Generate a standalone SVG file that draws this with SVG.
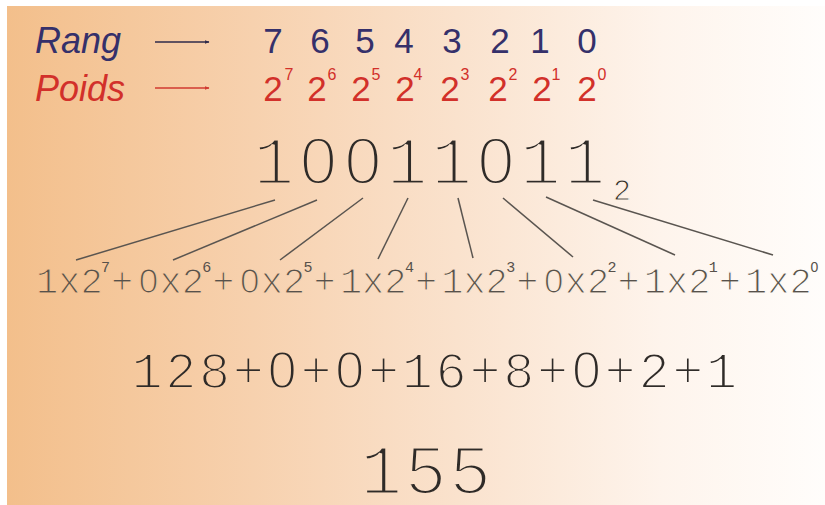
<svg xmlns="http://www.w3.org/2000/svg" width="825" height="505" viewBox="0 0 825 505">
  <defs>
    <linearGradient id="bg" gradientUnits="userSpaceOnUse" x1="7" y1="0" x2="825" y2="0">
      <stop offset="0" stop-color="#F3BF8B"/>
      <stop offset="0.3" stop-color="#F7D1AE"/>
      <stop offset="0.55" stop-color="#FAE2CD"/>
      <stop offset="0.8" stop-color="#FEF4EC"/>
      <stop offset="1" stop-color="#FFFDFB"/>
    </linearGradient>
    <marker id="arrDark" viewBox="0 0 10 10" refX="9" refY="5" markerWidth="5" markerHeight="5" orient="auto" markerUnits="userSpaceOnUse">
      <path d="M0,1 L10,5 L0,9 Z" fill="#2e2a4a"/>
    </marker>
    <marker id="arrRed" viewBox="0 0 10 10" refX="9" refY="5" markerWidth="5" markerHeight="5" orient="auto" markerUnits="userSpaceOnUse">
      <path d="M0,1 L10,5 L0,9 Z" fill="#d03a30"/>
    </marker>
  </defs>
  <style>
    .lab { font-family: "Liberation Sans", Arial, sans-serif; font-style: italic; font-size: 36px; }
    .sans { font-family: "Liberation Sans", Arial, sans-serif; font-size: 35px; }
    .sup { font-family: "Liberation Sans", Arial, sans-serif; font-size: 16px; }
    .rang { fill: #35306a; }
    .poids { fill: #d2302a; }
    .mono { font-family: "Liberation Mono", "Courier New", monospace; fill: #2f2b28; stroke: url(#bg); stroke-width: 3px; }
    .z { font-family: "Liberation Sans", Arial, sans-serif; }
    .exp { font-family: "Liberation Mono", "Courier New", monospace; font-size: 37px; fill: #57514b; stroke: url(#bg); stroke-width: 1.2px; }
    .expz { font-family: "Liberation Sans", Arial, sans-serif; font-size: 35px; fill: #57514b; stroke: url(#bg); stroke-width: 1.2px; }
    .expsup { font-family: "Liberation Mono", "Courier New", monospace; font-size: 15px; fill: #57514b; }
    .conn { stroke: #5a5550; stroke-width: 1.5; fill: none; }
  </style>
  <rect x="0" y="0" width="825" height="505" fill="#ffffff"/>
  <rect x="7" y="6" width="818" height="499" fill="url(#bg)"/>

  <g id="rang">
    <text class="lab rang" x="35" y="53">Rang</text>
    <line x1="155" y1="42" x2="209" y2="42" stroke="#2e2a4a" stroke-width="1.5" marker-end="url(#arrDark)"/>
    <g class="sans rang" text-anchor="middle">
      <text x="273" y="53">7</text>
      <text x="320" y="53">6</text>
      <text x="365" y="53">5</text>
      <text x="404" y="53">4</text>
      <text x="452" y="53">3</text>
      <text x="500" y="53">2</text>
      <text x="540" y="53">1</text>
      <text x="587" y="53">0</text>
    </g>
  </g>

  <g id="poids">
    <text class="lab poids" x="35" y="101">Poids</text>
    <line x1="155" y1="88" x2="209" y2="88" stroke="#d03a30" stroke-width="1.5" marker-end="url(#arrRed)"/>
    <g class="sans poids" text-anchor="middle">
      <text x="273" y="101">2</text>
      <text x="317" y="101">2</text>
      <text x="361" y="101">2</text>
      <text x="405" y="101">2</text>
      <text x="450" y="101">2</text>
      <text x="498" y="101">2</text>
      <text x="542" y="101">2</text>
      <text x="587" y="101">2</text>
    </g>
    <g class="sup poids" text-anchor="middle">
      <text x="289" y="80">7</text>
      <text x="332" y="80">6</text>
      <text x="376" y="80">5</text>
      <text x="418" y="80">4</text>
      <text x="465" y="80">3</text>
      <text x="513" y="80">2</text>
      <text x="556" y="80">1</text>
      <text x="602" y="80">0</text>
    </g>
  </g>

  <g id="binary">
    <text class="mono" y="184" font-size="68" text-anchor="middle"><tspan x="274">1</tspan><tspan class="z" x="318.4" font-size="67">0</tspan><tspan class="z" x="362.8" font-size="67">0</tspan><tspan x="407.2">1</tspan><tspan x="451.6">1</tspan><tspan class="z" x="496" font-size="67">0</tspan><tspan x="540.4">1</tspan><tspan x="584.8">1</tspan></text>
    <text class="mono" x="622" y="200" font-size="30" style="stroke-width:1px" text-anchor="middle">2</text>
  </g>

  <g id="connectors">
    <line class="conn" x1="275" y1="200" x2="76" y2="260"/>
    <line class="conn" x1="317" y1="200" x2="173" y2="260"/>
    <line class="conn" x1="363" y1="198" x2="280" y2="260"/>
    <line class="conn" x1="408" y1="198" x2="378" y2="259"/>
    <line class="conn" x1="458" y1="198" x2="473" y2="258"/>
    <line class="conn" x1="503" y1="198" x2="573" y2="257"/>
    <line class="conn" x1="546" y1="197" x2="675" y2="255"/>
    <line class="conn" x1="593" y1="200" x2="773" y2="255"/>
  </g>

  <g id="expansion">
    <text class="exp" y="293"><tspan x="36">1x2</tspan><tspan x="111">+</tspan><tspan class="expz" x="138.8">0</tspan><tspan x="159.5">x2</tspan><tspan x="212.3">+</tspan><tspan class="expz" x="240.1">0</tspan><tspan x="260.8">x2</tspan><tspan x="313.6">+</tspan><tspan x="339.9">1x2</tspan><tspan x="414.9">+</tspan><tspan x="441.2">1x2</tspan><tspan x="516.2">+</tspan><tspan class="expz" x="544">0</tspan><tspan x="564.7">x2</tspan><tspan x="617.5">+</tspan><tspan x="643.8">1x2</tspan><tspan x="718.8">+</tspan><tspan x="745.1">1x2</tspan></text>
    <text class="expsup" y="272"><tspan x="101">7</tspan><tspan x="202.3">6</tspan><tspan x="303.6">5</tspan><tspan x="404.9">4</tspan><tspan x="506.2">3</tspan><tspan x="607.5">2</tspan><tspan x="708.8">1</tspan><tspan class="z" x="810.6" font-size="14">0</tspan></text>
  </g>

  <g id="sum">
    <text class="mono" y="388" font-size="52" style="stroke-width:2px" text-anchor="middle"><tspan x="147 180.8 214.6 248.4">128+</tspan><tspan class="z" x="282.2" font-size="52">0</tspan><tspan x="316">+</tspan><tspan class="z" x="349.8" font-size="52">0</tspan><tspan x="383.6 417.4 451.2 485 518.8 552.6">+16+8+</tspan><tspan class="z" x="586.4" font-size="52">0</tspan><tspan x="620.2 654 687.8 721.6">+2+1</tspan></text>
  </g>

  <g id="result">
    <text class="mono" x="427" y="494" font-size="70" letter-spacing="2.5" text-anchor="middle">155</text>
  </g>
</svg>
